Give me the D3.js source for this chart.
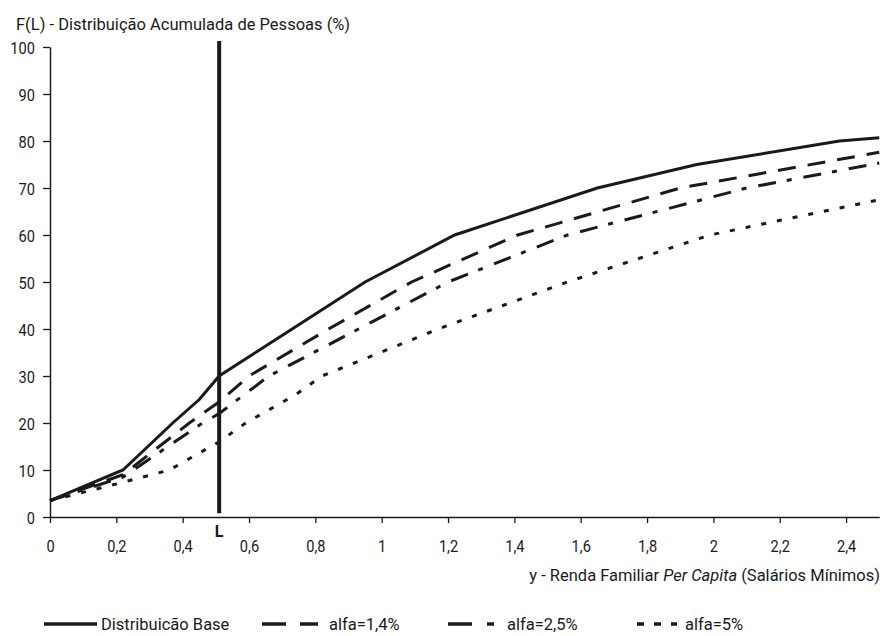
<!DOCTYPE html>
<html>
<head>
<meta charset="utf-8">
<script src="https://cdn.jsdelivr.net/npm/d3@7"></script>
<style>
  body { margin: 0; background: #fff; }
  svg { display: block; }
  text { font-family: Roboto, "Liberation Sans", sans-serif; fill: #1a1a1a; }
</style>
</head>
<body>
<div id="chart"></div>
<script>
// ---------- Data ----------
const baseX = [0, 0.22, 0.37, 0.45, 0.51, 0.73, 0.95, 1.22, 1.65, 1.95, 2.38, 2.5];
const baseY = [3.5, 10, 20, 25, 30, 40, 50, 60, 70, 75, 80, 80.7];

const a14X = [0, 0.22, 0.42, 0.51, 0.6, 0.84, 1.09, 1.41, 1.9, 2.5];
const a14Y = [3.5, 9, 20, 24.5, 30, 40, 50, 60, 70, 77.6];

const a25X = [0, 0.22, 0.46, 0.51, 0.66, 0.93, 1.2, 1.56, 2.1, 2.5];
const a25Y = [3.5, 8.5, 20, 22, 30, 40, 50, 60, 70, 75.3];

const a5X = [0, 0.21, 0.36, 0.51, 0.59, 0.74, 0.82, 1.09, 1.17, 1.56, 1.99, 2.5];
const a5Y = [3.5, 7.2, 10, 16, 20, 26, 30, 37.7, 40, 50, 60, 67.5];

const seriesNames = ["Distribuicão Base", "alfa=1,4%", "alfa=2,5%", "alfa=5%"];
const seriesDash = [null, "18,12", "18,11,5,12", "5,11"];

const xTicks = [0, 0.2, 0.4, 0.6, 0.8, 1, 1.2, 1.4, 1.6, 1.8, 2, 2.2, 2.4];
const yTicks = [0, 10, 20, 30, 40, 50, 60, 70, 80, 90, 100];
const cutL = 0.51;

// ---------- Setup ----------
const width = 884, height = 636;
const margin = {top: 47, right: 5, bottom: 119, left: 50};

const svg = d3.select("#chart").append("svg")
  .attr("width", width).attr("height", height);

const x = d3.scaleLinear().domain([0, 2.5]).range([margin.left, margin.left + 2.5 * 331.7]);
const y = d3.scaleLinear().domain([0, 100]).range([height - margin.bottom, margin.top]);

const ink = "#1a1a1a";
const squeeze = 0.86; // narrow the tick digits a bit, the original font is condensed

// ---------- Axes ----------
const fmt = d => String(d).replace(".", ",");

const gx = svg.append("g")
  .attr("transform", `translate(0,${y(0)})`)
  .call(d3.axisBottom(x).tickValues(xTicks).tickFormat(fmt).tickSize(6).tickSizeOuter(0));

const gy = svg.append("g")
  .attr("transform", `translate(${x(0)},0)`)
  .call(d3.axisLeft(y).tickValues(yTicks).tickSize(7).tickSizeOuter(0));

[gx, gy].forEach(g => {
  g.select(".domain").attr("stroke", ink).attr("stroke-width", 1.5);
  g.selectAll(".tick line").attr("stroke", ink).attr("stroke-width", 1.3);
  g.selectAll(".tick text").attr("font-size", 17).attr("fill", ink)
    .style("font-family", "Roboto, sans-serif");
});

gx.selectAll(".tick text")
  .attr("dy", null).attr("y", 35)
  .attr("transform", `scale(${squeeze},1)`);

gy.selectAll(".tick text")
  .attr("x", -15 / squeeze).attr("dy", "0.36em")
  .attr("transform", `scale(${squeeze},1)`);

// axis titles
svg.append("text")
  .attr("x", 16).attr("y", 30)
  .attr("font-size", 16.5)
  .text("F(L) - Distribuição Acumulada de Pessoas (%)");

const xt = svg.append("text")
  .attr("x", 880).attr("y", 581)
  .attr("text-anchor", "end")
  .attr("font-size", 16.5);
xt.append("tspan").text("y - Renda Familiar ");
xt.append("tspan").attr("font-style", "italic").text("Per Capita");
xt.append("tspan").text(" (Salários Mínimos)");

// ---------- Lines ----------
const line = d3.line().x(d => x(d[0])).y(d => y(d[1]));
const series = [
  d3.zip(baseX, baseY),
  d3.zip(a14X, a14Y),
  d3.zip(a25X, a25Y),
  d3.zip(a5X, a5Y)
];

svg.append("g").selectAll("path")
  .data(series)
  .join("path")
  .attr("d", line)
  .attr("fill", "none")
  .attr("stroke", ink)
  .attr("stroke-width", 3)
  .attr("stroke-dasharray", (d, i) => seriesDash[i]);

// ---------- L marker ----------
svg.append("line")
  .attr("x1", x(cutL)).attr("x2", x(cutL))
  .attr("y1", y(0.8)).attr("y2", y(101.3))
  .attr("stroke", ink).attr("stroke-width", 4);

svg.append("text")
  .attr("x", x(cutL)).attr("y", 537)
  .attr("text-anchor", "middle")
  .attr("font-size", 16).attr("font-weight", "bold")
  .text("L");

// ---------- Legend ----------
const legendX = [44, 262, 448, 637];
const legendW = [53, 56, 46, 40];
const legendDash = [null, "24,14", "24,15,7,15", "7,10"];
const legendGap = [4, 11, 13, 8];

const lg = svg.append("g").selectAll("g")
  .data(seriesNames)
  .join("g")
  .attr("transform", (d, i) => `translate(${legendX[i]},624)`);

lg.append("line")
  .attr("x1", 0).attr("x2", (d, i) => legendW[i])
  .attr("stroke", ink).attr("stroke-width", 3.5)
  .attr("stroke-dasharray", (d, i) => legendDash[i]);

lg.append("text")
  .attr("x", (d, i) => legendW[i] + legendGap[i])
  .attr("y", 6)
  .attr("font-size", 16.5)
  .text(d => d);
</script>
</body>
</html>
